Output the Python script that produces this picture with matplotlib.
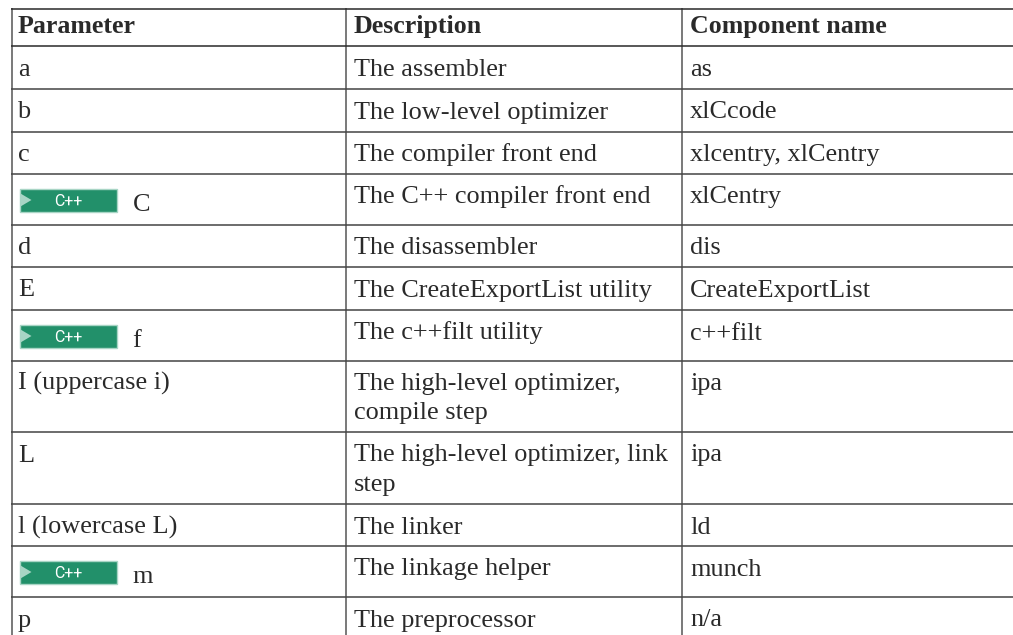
import matplotlib
matplotlib.use("Agg")
import matplotlib.pyplot as plt
from matplotlib.patches import Rectangle, Polygon

headers = ["Parameter", "Description", "Component name"]
parameters = ["a", "b", "c", "C", "d", "E", "f", "I (uppercase i)", "L", "l (lowercase L)", "m", "p"]
descriptions = ["The assembler", "The low-level optimizer", "The compiler front end",
                "The C++ compiler front end", "The disassembler", "The CreateExportList utility",
                "The c++filt utility", "The high-level optimizer,\ncompile step",
                "The high-level optimizer, link\nstep", "The linker", "The linkage helper",
                "The preprocessor"]
components = ["as", "xlCcode", "xlcentry, xlCentry", "xlCentry", "dis", "CreateExportList",
              "c++filt", "ipa", "ipa", "ld", "munch", "n/a"]
has_badge = [False, False, False, True, False, False, True, False, False, False, True, False]
row_lines = [46, 89, 131.5, 174, 224.5, 267, 310, 360.5, 432, 504, 546, 597]
col_lines = [11.5, 346, 682]
col_text = [18, 354, 690]

W, H = 1013, 635
fig = plt.figure(figsize=(W / 100, H / 100), dpi=100)
ax = fig.add_axes([0, 0, 1, 1])
ax.set_xlim(0, W)
ax.set_ylim(H, 0)
ax.axis("off")
font = "Liberation Serif"
fs = 18.9
dark = "#2a2a2a"

for x in col_lines:
    ax.plot([x, x], [8, H], color="#555555", lw=1.1, solid_capstyle="butt")
ax.plot([11, W], [8.5, 8.5], color="#2a2a2a", lw=1.1, solid_capstyle="butt")
for i, y in enumerate(row_lines):
    ax.plot([11, W], [y, y], color="#2a2a2a" if i == 0 else "#444444", lw=1.1, solid_capstyle="butt")

for x, h in zip(col_text, headers):
    ax.text(x, 33, h, family=font, fontsize=18.6, fontweight="bold", color=dark, va="baseline")

for i, top in enumerate(row_lines):
    base = top + 29.5
    x = col_text[0]
    pbase = base
    if has_badge[i]:
        bt = top + 14.5
        ax.add_patch(Rectangle((19.5, bt), 97.5, 23, fc="#22906a", ec="#a8d5c5", lw=1))
        ax.add_patch(Polygon([[20.5, bt + 5], [31.5, bt + 11.5], [20.5, bt + 18]], fc="#a8d5c5", ec="none"))
        ax.text(68, bt + 18, "C++", family="Roboto", fontsize=11.5,
                color="white", ha="center", va="baseline")
        x = 132.5
        pbase = top + 37
    ax.text(x, pbase, parameters[i], family=font, fontsize=fs, color=dark, va="baseline")
    for j, line in enumerate(descriptions[i].split("\n")):
        ax.text(col_text[1], base + 29 * j, line, family=font, fontsize=fs, color=dark, va="baseline")
    ax.text(col_text[2], base, components[i], family=font, fontsize=fs, color=dark, va="baseline")

fig.savefig("out.png", dpi=100)
